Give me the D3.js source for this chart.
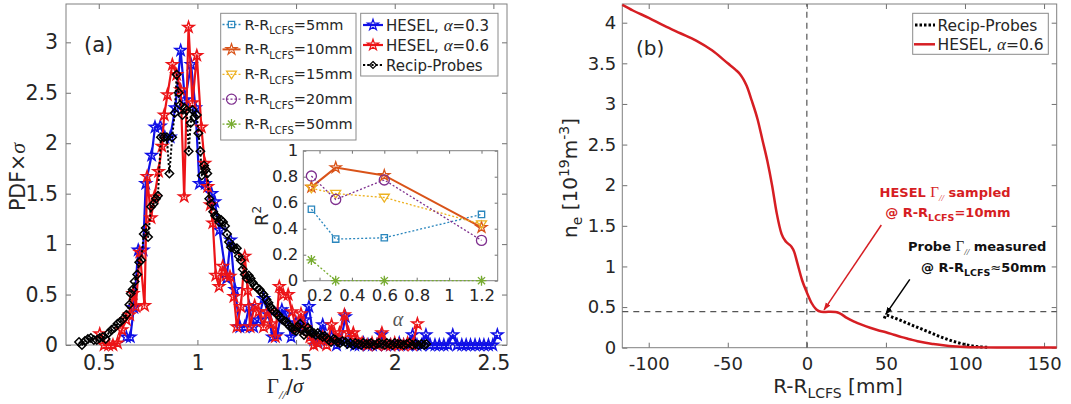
<!DOCTYPE html>
<html><head><meta charset="utf-8">
<script src="https://cdn.jsdelivr.net/npm/d3@7"></script>
<style>
body{margin:0;background:#fff;}
svg{display:block;}
text{font-family:"DejaVu Sans",sans-serif;fill:#262626;}
</style>
</head><body>
<svg id="c" width="1071" height="404"></svg>
<script>
// ================= DATA =================
// (a) PDF of parallel flux, HESEL alpha=0.3
const hesel03X=[0.64,0.66,0.678,0.70,0.725,0.738,0.768,0.785,0.812,0.835,0.862,0.888,0.915,0.937,0.968,0.99,1.01,1.04,1.072,1.088,1.112,1.148,1.168,1.19,1.215,1.24,1.262,1.285,1.31,1.335,1.36,1.38,1.405,1.428,1.45,1.475,1.50,1.52,1.545,1.565,1.59,1.612,1.635,1.658,1.68,1.705,1.728,1.75,1.775,1.797,1.82,1.842,1.865,1.887,1.91,1.932,1.955,1.978,2.0,2.023,2.045,2.068,2.09,2.113,2.136,2.158,2.18,2.204,2.226,2.249,2.271,2.294,2.316,2.34,2.362,2.384,2.407,2.43,2.452,2.475,2.497,2.52];
const hesel03Y=[0.08,0.08,0.37,0.94,0.94,1.60,1.88,2.16,2.17,2.06,2.06,2.35,2.92,2.43,2.78,2.35,1.60,1.60,1.50,1.42,1.14,0.66,1.04,0.55,0.18,0.18,0.38,0.18,0.25,0.46,0.30,0.08,0.10,0.35,0.30,0.08,0.22,0.18,0.25,0.38,0.05,0.02,0.20,0.05,0.08,0.0,0.05,0.28,0.02,0.0,0.0,0.02,0.0,0.0,0.0,0.10,0.0,0.0,0.0,0.02,0.0,0.0,0.10,0.0,0.0,0.10,0.0,0.0,0.0,0.0,0.0,0.10,0.0,0.0,0.0,0.0,0.0,0.0,0.0,0.0,0.0,0.10];
// (a) HESEL alpha=0.6
const hesel06X=[0.505,0.527,0.55,0.572,0.595,0.617,0.64,0.657,0.674,0.688,0.708,0.732,0.745,0.765,0.782,0.803,0.82,0.832,0.848,0.873,0.895,0.915,0.933,0.955,0.975,0.997,1.02,1.037,1.052,1.065,1.078,1.093,1.11,1.128,1.145,1.165,1.185,1.20,1.22,1.24,1.255,1.267,1.29,1.31,1.335,1.355,1.375,1.395,1.415,1.435,1.46,1.48,1.50,1.525,1.545,1.57,1.59,1.61,1.635,1.655,1.68,1.70,1.72,1.745,1.765,1.79,1.81,1.835,1.86,1.885,1.91,1.935,1.955,1.98,2.0,2.02,2.045,2.065,2.09,2.115];
const hesel06Y=[0.11,0,0,0,0.02,0.15,0.25,0.30,0.51,0.38,0.92,0.39,1.67,1.26,1.47,1.72,1.97,2.28,2.48,2.78,2.68,2.53,1.47,3.15,2.40,2.87,2.16,1.80,1.57,1.39,1.21,0.69,0.58,0.78,0.69,0.68,0.48,0.18,0.38,0.88,0.54,0.18,0.39,0.33,0.18,0.33,0.21,0.08,0.58,0.50,0.50,0.33,0.17,0.31,0.17,0.08,0.0,0.02,0.08,0.0,0.20,0.05,0.12,0.30,0.12,0.12,0.05,0.02,0.0,0.02,0.0,0.12,0.0,0.0,0.02,0.0,0.0,0.02,0.0,0.21];
// (a) Reciprocating probes
const probeX=[0.40,0.415,0.43,0.445,0.46,0.475,0.49,0.505,0.52,0.535,0.55,0.565,0.58,0.595,0.61,0.625,0.64,0.655,0.662,0.672,0.682,0.695,0.705,0.715,0.728,0.738,0.75,0.765,0.778,0.79,0.80,0.815,0.83,0.845,0.858,0.872,0.885,0.895,0.905,0.912,0.924,0.935,0.946,0.956,0.966,0.975,0.985,0.997,1.005,1.015,1.022,1.034,1.042,1.05,1.06,1.07,1.08,1.09,1.10,1.11,1.12,1.13,1.14,1.15,1.16,1.17,1.18,1.19,1.20,1.21,1.22,1.23,1.24,1.25,1.26,1.27,1.28,1.29,1.30,1.315,1.325,1.335,1.35,1.36,1.37,1.38,1.39,1.40,1.41,1.42,1.43,1.44,1.45,1.46,1.47,1.48,1.49,1.50,1.51,1.52,1.53,1.54,1.55,1.56,1.57,1.58,1.59,1.60,1.61,1.62,1.635,1.645,1.655,1.665,1.677,1.69,1.70,1.71,1.723,1.735,1.75,1.76,1.775,1.79,1.80,1.815,1.83,1.84,1.855,1.87,1.88,1.895,1.91,1.92,1.935,1.95,1.96,1.975,1.99,2.0,2.015,2.03,2.045,2.06,2.075,2.09,2.105,2.12,2.135,2.15,2.16];
const probeY=[0.03,0.0,0.04,0.06,0.07,0.05,0.05,0.07,0.08,0.06,0.12,0.15,0.17,0.21,0.23,0.26,0.30,0.40,0.51,0.55,0.63,0.70,0.82,0.84,1.10,1.16,1.07,1.37,1.40,1.45,1.48,2.06,2.06,2.06,1.70,2.06,2.30,2.68,2.50,2.38,2.28,2.35,2.33,1.92,2.20,2.33,2.26,2.28,2.10,1.92,1.68,1.78,1.74,1.70,1.45,1.40,1.32,1.28,1.27,1.22,1.24,1.22,1.18,1.10,1.02,0.97,0.98,0.95,0.96,0.88,0.84,0.75,0.70,0.66,0.69,0.66,0.62,0.59,0.57,0.55,0.52,0.50,0.45,0.42,0.38,0.35,0.33,0.31,0.30,0.27,0.25,0.24,0.23,0.20,0.18,0.17,0.15,0.14,0.18,0.21,0.15,0.10,0.13,0.17,0.14,0.12,0.12,0.10,0.12,0.10,0.08,0.09,0.07,0.05,0.03,0.06,0.05,0.03,0.02,0.04,0.03,0.01,0.02,0.0,0.02,0.01,0.0,0.02,0.01,0.01,0.02,0.0,0.01,0.02,0.01,0.0,0.02,0.01,0.0,0.02,0.01,0.01,0.0,0.01,0.02,0.0,0.01,0.0,0.01,0.0,0.01];
const pdfXTicks=[0.5,1,1.5,2,2.5];
const pdfYTicks=[0,0.5,1,1.5,2,2.5,3];

// (a) inset: R^2 vs alpha
const alphaVals=[0.15,0.3,0.6,1.2];
const r2_5mm=[0.55,0.32,0.33,0.51];
const r2_10mm=[0.72,0.87,0.81,0.41];
const r2_15mm=[0.71,0.67,0.64,0.435];
const r2_20mm=[0.805,0.625,0.775,0.31];
const r2_50mm=[0.16,0,0,0];
const insetXTicks=[0.2,0.4,0.6,0.8,1,1.2];
const insetYTicks=[0,0.2,0.4,0.6,0.8,1];

// (b) density profile
const profR=[-116.7,-110,-100,-90,-80,-70,-60,-50,-45,-42,-40,-38,-35,-31,-28,-25,-22,-19,-16,-13,-10,-8,-6,-3,0,3,6,9,12,15,18,20,22,25,30,35,40,45,50,55,60,65,70,75,80,85,90,95,100,105,110,120,135,158];
const profNe=[4.22,4.15,4.06,3.96,3.87,3.78,3.66,3.50,3.42,3.36,3.30,3.22,3.05,2.80,2.55,2.30,2.00,1.65,1.40,1.30,1.25,1.18,1.04,0.83,0.68,0.55,0.47,0.443,0.44,0.443,0.44,0.43,0.41,0.37,0.32,0.28,0.245,0.215,0.19,0.16,0.13,0.105,0.08,0.06,0.045,0.032,0.022,0.015,0.01,0.006,0.004,0.002,0.001,0.001];
const probeR=[49,50,55,60,65,70,75,80,85,90,95,100,105,110,115];
const probeNe=[0.36,0.40,0.37,0.33,0.29,0.25,0.21,0.17,0.13,0.095,0.065,0.04,0.02,0.01,0.005];
const sepNe=0.443;
const profXTicks=[-100,-50,0,50,100,150];
const profYTicks=[0,0.5,1,1.5,2,2.5,3,3.5,4];

// ================= DRAW =================
const svg=d3.select('#c');
const frameCol='#808080', tickCol='#707070';
const fmt=d=>String(d);

function richText(g,x,y,parts,opt={}){
  const t=g.append('text').attr('x',x).attr('y',y);
  if(opt.anchor) t.attr('text-anchor',opt.anchor);
  if(opt.fill) t.style('fill',opt.fill);
  if(opt.weight) t.attr('font-weight',opt.weight);
  if(opt.transform) t.attr('transform',opt.transform);
  parts.forEach(p=>{
    const s=t.append('tspan').text(p.t).attr('font-size',p.s);
    if(p.dy) s.attr('dy',p.dy);
    if(p.f) s.style('font-family',p.f);
    if(p.i) s.attr('font-style','italic');
    if(p.w) s.attr('font-weight',p.w);
  });
  return t;
}

function axesBox(g,x,y,xt,yt,fs,len,padX,padY){
  const [xa,xb]=x.range(),[ya,yb]=y.range();
  const ax=(gen,tr)=>{
    const a=g.append('g').attr('transform',tr).call(gen);
    a.select('.domain').remove();
    a.selectAll('line').attr('stroke',tickCol);
    a.selectAll('text').attr('font-size',fs).style('fill','#262626').attr('font-family','DejaVu Sans');
    return a;
  };
  ax(d3.axisBottom(x).tickValues(xt).tickFormat(fmt).tickSize(-len).tickPadding(padX),`translate(0,${ya})`);
  ax(d3.axisTop(x).tickValues(xt).tickFormat('').tickSize(-len),`translate(0,${yb})`);
  ax(d3.axisLeft(y).tickValues(yt).tickFormat(fmt).tickSize(-len).tickPadding(padY),`translate(${xa},0)`);
  ax(d3.axisRight(y).tickValues(yt).tickFormat('').tickSize(-len),`translate(${xb},0)`);
  g.append('rect').attr('x',xa).attr('y',yb).attr('width',xb-xa).attr('height',ya-yb)
    .attr('fill','none').attr('stroke',frameCol).attr('stroke-width',1);
}

// marker shapes
const starPath=d3.symbol(d3.symbolStar).size(38)();
const diamondPath=r=>`M0,${-r}L${r},0L0,${r}L${-r},0Z`;
const squarePath=d3.symbol(d3.symbolSquare).size(40)();
const circlePath=d3.symbol(d3.symbolCircle).size(80)();
const triPath=r=>`M${-r},${-r*0.65}L${r},${-r*0.65}L0,${r*0.9}Z`;
const astPath=r=>{const q=r*0.72;return `M${-r},0H${r}M0,${-r}V${r}M${-q},${-q}L${q},${q}M${-q},${q}L${q},${-q}`;};

// ---------- Panel (a) ----------
const gA=svg.append('g');
const xA=d3.scaleLinear([0.334,2.569],[66,507]);
const yA=d3.scaleLinear([0,3.38],[345,4]);
axesBox(gA,xA,yA,pdfXTicks,pdfYTicks,20.5,5,10.5,8);

const seriesA=[
  {x:hesel03X,y:hesel03Y,col:'#1010e6',dash:null,mk:starPath,lw:2.2},
  {x:hesel06X,y:hesel06Y,col:'#ec1418',dash:null,mk:starPath,lw:2.2},
  {x:probeX,y:probeY,col:'#000',dash:'2.2,2',mk:diamondPath(4.2),lw:2}
];
const lineA=d3.line().x(d=>xA(d[0])).y(d=>yA(d[1]));
seriesA.forEach(s=>{
  const pts=s.x.map((v,i)=>[v,s.y[i]]);
  gA.append('path').attr('d',lineA(pts)).attr('fill','none').attr('stroke',s.col)
    .attr('stroke-width',s.lw).attr('stroke-dasharray',s.dash).attr('stroke-linejoin','round');
  gA.selectAll(null).data(pts).enter().append('path').attr('d',s.mk)
    .attr('transform',d=>`translate(${xA(d[0])},${yA(d[1])})`)
    .attr('fill','none').attr('stroke',s.col).attr('stroke-width',1.5);
});

// labels (a)
gA.append('text').attr('x',84).attr('y',52).attr('font-size',21).text('(a)');
richText(gA,0,0,[{t:'PDF',s:20.5},{t:'×',s:20.5},{t:'σ',s:22,f:'Liberation Serif',i:true}],
  {anchor:'middle',transform:'translate(25,177) rotate(-90)'});
richText(gA,285,393,[{t:'Γ',s:21,f:'Liberation Serif'},{t:'//',s:13,f:'Liberation Serif',i:true,dy:6},{t:'/',s:20,dy:-6},{t:'σ',s:21,f:'Liberation Serif',i:true}],{anchor:'middle'});

// ---------- Inset ----------
const gI=svg.append('g');
const xI=d3.scaleLinear([0.1,1.3],[303.3,497.7]);
const yI=d3.scaleLinear([0,1],[280.7,150.7]);
gI.append('rect').attr('x',303.3).attr('y',150.7).attr('width',194.4).attr('height',130).attr('fill','#fff');
axesBox(gI,xI,yI,insetXTicks,insetYTicks,16.5,3,9,5);
const insetSeries=[
  {v:r2_5mm,col:'#2a86bd',dash:'2,2',mk:squarePath,lw:1.3,lab:'5mm'},
  {v:r2_10mm,col:'#d95319',dash:null,mk:starPath,lw:2,lab:'10mm'},
  {v:r2_15mm,col:'#edb120',dash:'2,2',mk:triPath(5),lw:1.3,lab:'15mm'},
  {v:r2_20mm,col:'#7e2f8e',dash:'2,2',mk:circlePath,lw:1.3,lab:'20mm'},
  {v:r2_50mm,col:'#77ac30',dash:'2,2',mk:astPath(5),lw:1.3,lab:'50mm'}
];
const lineI=d3.line().x(d=>xI(d[0])).y(d=>yI(d[1]));
insetSeries.forEach(s=>{
  const pts=alphaVals.map((a,i)=>[a,s.v[i]]);
  gI.append('path').attr('d',lineI(pts)).attr('fill','none').attr('stroke',s.col)
    .attr('stroke-width',s.lw).attr('stroke-dasharray',s.dash);
  gI.selectAll(null).data(pts).enter().append('path').attr('d',s.mk)
    .attr('transform',d=>`translate(${xI(d[0])},${yI(d[1])})`)
    .attr('fill','none').attr('stroke',s.col).attr('stroke-width',1.3);
});
richText(gI,0,0,[{t:'R',s:18},{t:'2',s:12,dy:-7}],{anchor:'middle',transform:'translate(268,216) rotate(-90)'});
richText(gI,398,326,[{t:'α',s:20,f:'Liberation Serif',i:true}],{anchor:'middle',fill:'#555'});

// ---------- Legends (a) ----------
const lg1=svg.append('g');
lg1.append('rect').attr('x',220.7).attr('y',13.3).attr('width',135.3).attr('height',126.7)
  .attr('fill','#fff').attr('stroke','#8a8a8a');
insetSeries.forEach((s,i)=>{
  const yy=24.5+i*24.9;
  lg1.append('line').attr('x1',222.5).attr('x2',240.5).attr('y1',yy).attr('y2',yy)
    .attr('stroke',s.col).attr('stroke-width',s.lw).attr('stroke-dasharray',s.dash);
  lg1.append('path').attr('d',s.mk).attr('transform',`translate(231.5,${yy})`)
    .attr('fill','none').attr('stroke',s.col).attr('stroke-width',1.2);
  richText(lg1,244.5,yy+5,[{t:'R-R',s:14.5},{t:'LCFS',s:10,dy:4.5},{t:'='+s.lab,s:14.5,dy:-4.5}]);
});
const lg2=svg.append('g');
lg2.append('rect').attr('x',360.7).attr('y',13.3).attr('width',137.3).attr('height',62.7)
  .attr('fill','#fff').attr('stroke','#8a8a8a');
const lg2Items=[
  {s:seriesA[0],parts:[{t:'HESEL, ',s:15},{t:'α',s:17,f:'Liberation Serif',i:true},{t:'=0.3',s:15}]},
  {s:seriesA[1],parts:[{t:'HESEL, ',s:15},{t:'α',s:17,f:'Liberation Serif',i:true},{t:'=0.6',s:15}]},
  {s:seriesA[2],parts:[{t:'Recip-Probes',s:15}]}
];
lg2Items.forEach((it,i)=>{
  const yy=25+i*20;
  lg2.append('line').attr('x1',363).attr('x2',383).attr('y1',yy).attr('y2',yy)
    .attr('stroke',it.s.col).attr('stroke-width',it.s.lw).attr('stroke-dasharray',it.s.dash);
  lg2.append('path').attr('d',i===2?diamondPath(3.5):it.s.mk).attr('transform',`translate(373,${yy})`)
    .attr('fill','none').attr('stroke',it.s.col).attr('stroke-width',1.2);
  richText(lg2,386,yy+5.5,it.parts);
});

// ---------- Panel (b) ----------
const gB=svg.append('g');
const xB=d3.scaleLinear([-116.7,158],[622.3,1056.7]);
const yB=d3.scaleLinear([0,4.23],[347.7,4]);
axesBox(gB,xB,yB,profXTicks,profYTicks,18,5,9.5,6);
// reference dashed lines
gB.append('line').attr('x1',xB.range()[0]).attr('x2',xB.range()[1]).attr('y1',yB(sepNe)).attr('y2',yB(sepNe))
  .attr('stroke','#555').attr('stroke-width',1.2).attr('stroke-dasharray','6,5');
gB.append('line').attr('x1',xB(0)).attr('x2',xB(0)).attr('y1',yB.range()[0]).attr('y2',yB.range()[1])
  .attr('stroke','#555').attr('stroke-width',1.2).attr('stroke-dasharray','6,5');
const lineB=d3.line().x(d=>xB(d[0])).y(d=>yB(d[1])).curve(d3.curveMonotoneX);
gB.append('path').attr('d',lineB(probeR.map((r,i)=>[r,probeNe[i]]))).attr('fill','none')
  .attr('stroke','#000').attr('stroke-width',3).attr('stroke-dasharray','2.5,2');
gB.append('path').attr('d',lineB(profR.map((r,i)=>[r,profNe[i]]))).attr('fill','none')
  .attr('stroke','#d61e23').attr('stroke-width',2.5);

// arrows
const defs=svg.append('defs');
[['ahR','#d61e23'],['ahK','#000']].forEach(([id,c])=>{
  defs.append('marker').attr('id',id).attr('viewBox','0 0 10 10').attr('refX',9).attr('refY',5)
    .attr('markerWidth',8).attr('markerHeight',8).attr('orient','auto-start-reverse')
    .attr('markerUnits','userSpaceOnUse')
    .append('path').attr('d','M0,1.5L10,5L0,8.5Z').attr('fill',c);
});
gB.append('line').attr('x1',xB(47.1)).attr('y1',yB(1.51)).attr('x2',xB(10.9)).attr('y2',yB(0.465))
  .attr('stroke','#d61e23').attr('stroke-width',1.5).attr('marker-end','url(#ahR)');
gB.append('line').attr('x1',xB(65.1)).attr('y1',yB(0.84)).attr('x2',xB(49.9)).attr('y2',yB(0.41))
  .attr('stroke','#000').attr('stroke-width',1.5).attr('marker-end','url(#ahK)');

// annotations
const red='#d61e23';
richText(gB,xB(128.8),yB(1.86),[{t:'HESEL ',s:13,w:'bold'},{t:'Γ',s:15,f:'Liberation Serif'},{t:'//',s:9,f:'Liberation Serif',i:true,dy:4},{t:' sampled',s:13,w:'bold',dy:-4}],{anchor:'end',fill:red});
richText(gB,xB(128.8),yB(1.605),[{t:'@ R-R',s:13,w:'bold'},{t:'LCFS',s:9.5,w:'bold',dy:4},{t:'=10mm',s:13,w:'bold',dy:-4}],{anchor:'end',fill:red});
richText(gB,xB(151.5),yB(1.19),[{t:'Probe ',s:13,w:'bold'},{t:'Γ',s:15,f:'Liberation Serif'},{t:'//',s:9,f:'Liberation Serif',i:true,dy:4},{t:' measured',s:13,w:'bold',dy:-4}],{anchor:'end',fill:'#111'});
richText(gB,xB(151.5),yB(0.935),[{t:'@ R-R',s:13,w:'bold'},{t:'LCFS',s:9.5,w:'bold',dy:4},{t:'≈',s:13,dy:-4},{t:'50mm',s:13,w:'bold'}],{anchor:'end',fill:'#111'});

// labels (b)
gB.append('text').attr('x',636).attr('y',55).attr('font-size',20).text('(b)');
richText(gB,0,0,[{t:'n',s:20},{t:'e',s:14,dy:5},{t:' [10',s:20,dy:-5},{t:'19',s:14,dy:-8},{t:'m',s:20,dy:8},{t:'-3',s:14,dy:-8},{t:']',s:20,dy:8}],
  {anchor:'middle',transform:'translate(577,178) rotate(-90)'});
richText(gB,838,393,[{t:'R-R',s:20},{t:'LCFS',s:14,dy:5},{t:' [mm]',s:20,dy:-5}],{anchor:'middle'});

// legend (b)
const lgB=svg.append('g');
lgB.append('rect').attr('x',912.7).attr('y',13.3).attr('width',135.6).attr('height',41)
  .attr('fill','#fff').attr('stroke','#8a8a8a');
lgB.append('line').attr('x1',915).attr('x2',935).attr('y1',25).attr('y2',25)
  .attr('stroke','#000').attr('stroke-width',3).attr('stroke-dasharray','2.5,2');
richText(lgB,937.5,30.5,[{t:'Recip-Probes',s:15.5}]);
lgB.append('line').attr('x1',914).attr('x2',935).attr('y1',44.3).attr('y2',44.3)
  .attr('stroke','#d61e23').attr('stroke-width',2.5);
richText(lgB,937.5,49.8,[{t:'HESEL, ',s:15.5},{t:'α',s:17,f:'Liberation Serif',i:true},{t:'=0.6',s:15.5}]);
</script>
</body></html>
